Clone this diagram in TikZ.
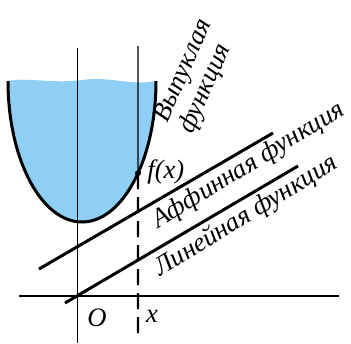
\documentclass[tikz,border=0pt]{standalone}
\usepackage{fontspec}
\setmainfont{Liberation Serif}[ItalicFont={Liberation Serif Italic}]
\usepackage{tikz}
\usetikzlibrary{positioning, calc}
\definecolor{waterblue}{RGB}{143,206,245}
\tikzset{
  axis/.style={line width=0.6pt},
  graph/.style={line width=1.5pt},
  lbl/.style={font=\fontsize{13.3}{16}\selectfont\itshape, inner sep=0pt}
}
\begin{document}
\begin{tikzpicture}[x=0.5pt, y=-0.5pt]
  \useasboundingbox (0,0) rectangle (351,343);
  % convex function filled like a cup
  \coordinate (fx) at ($(82,81)+(40.8:74 and 141)$);
  \fill[waterblue] (8,81) arc[start angle=180, end angle=0, x radius=74, y radius=141]
    .. controls (130,86) and (110,76) .. (82,80) .. controls (50,84) and (30,77) .. (8,81);
  \draw[graph] (8,81) arc[start angle=180, end angle=0, x radius=74, y radius=141];
  \draw[axis] (19,296) -- (339,296);
  \draw[axis] (77.7,48) -- (77.7,343);
  \coordinate (xtop) at (138,46);
  \coordinate (xbot) at (138,333);
  \draw[axis] (xtop) -- (fx);
  \draw[line width=1.2pt, dash pattern=on 8pt off 4pt] (fx) -- (xbot);
  \fill (fx) circle (3);
  \draw[graph] (39,269) -- (273,133);
  \draw[graph] (65,303) -- (298,166);
  \node[lbl, anchor=west] (flab) at (147,172) {f(x)};
  \node[lbl] (olab) at (97,318) {O};
  \node[lbl] (xlab) at (152,316) {x};
  \node[lbl, anchor=base west, rotate=66] (conv1) at (167,124) {Выпуклая};
  \node[lbl, anchor=base west, rotate=66] (conv2) at (192,135) {функция};
  \node[lbl, anchor=base west, rotate=31.5] (aff) at (158,229) {Аффинная функция};
  \node[lbl, anchor=base west, rotate=31.5] (lin) at (160,277) {Линейная функция};
\end{tikzpicture}
\end{document}
